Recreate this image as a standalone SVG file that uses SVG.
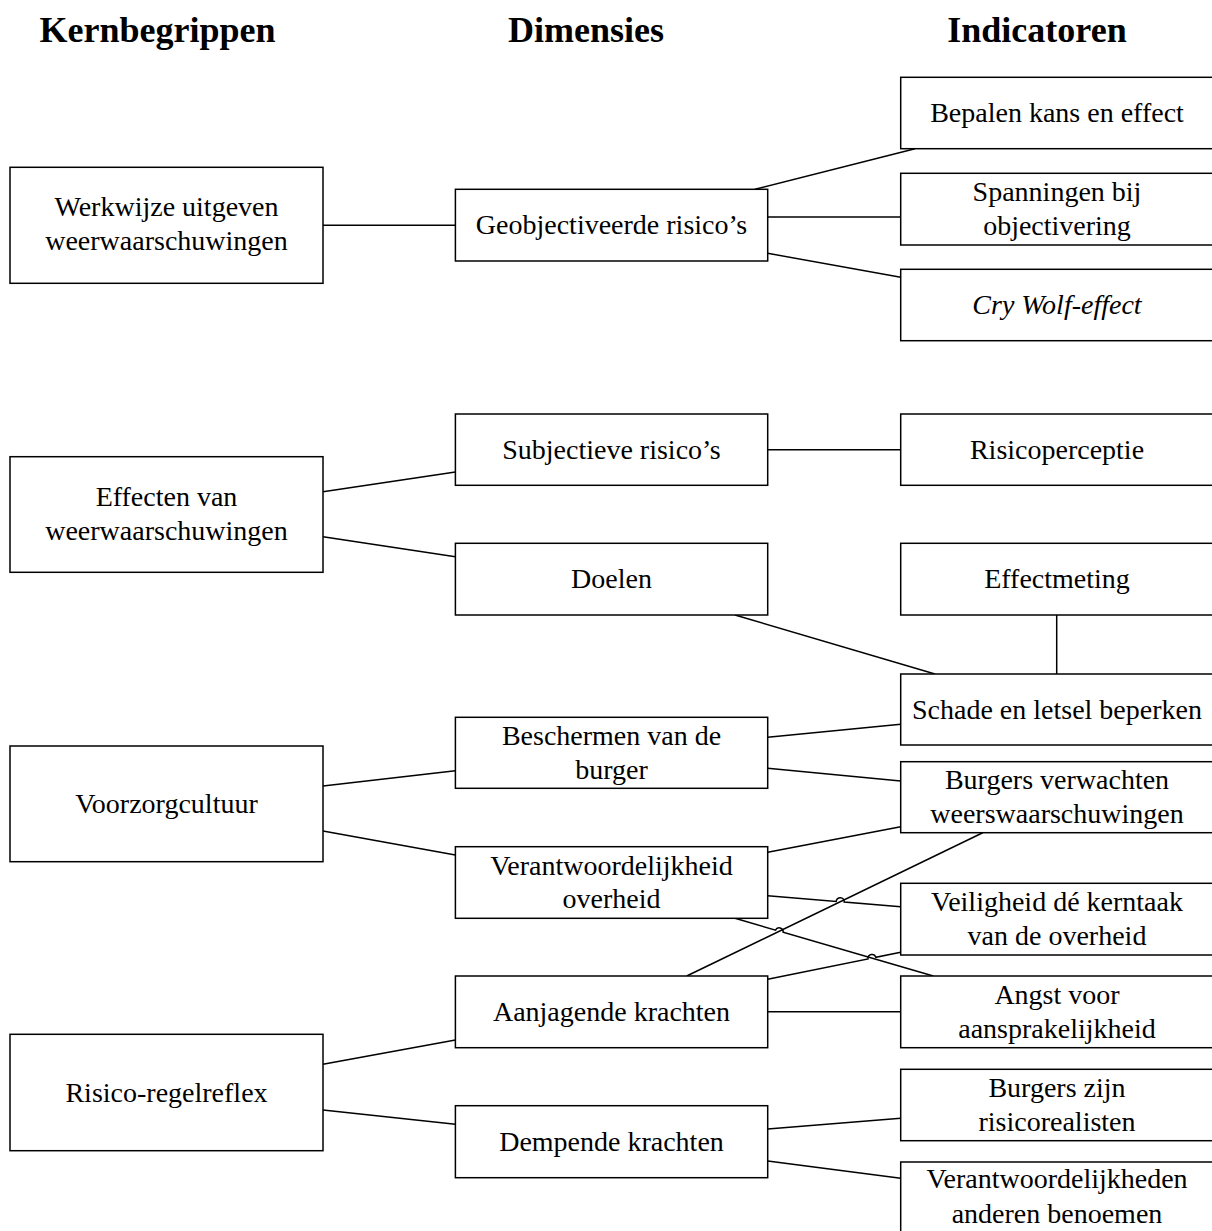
<svg xmlns="http://www.w3.org/2000/svg" width="1212" height="1231" viewBox="0 0 1212 1231">
<style>
.box{fill:#fff;stroke:#000;stroke-width:1.5}
.t{font-family:"Liberation Serif","Times New Roman",serif;font-size:28px;text-anchor:middle;fill:#000}
.h{font-family:"Liberation Serif","Times New Roman",serif;font-size:36px;font-weight:bold;text-anchor:middle;fill:#000}
.c line,.c path{stroke:#000;stroke-width:1.5;fill:none}
</style>
<rect x="0" y="0" width="1212" height="1231" fill="#fff"/>
<g id="headers">
<text class="h" x="157.5" y="42">Kernbegrippen</text>
<text class="h" x="586" y="42">Dimensies</text>
<text class="h" x="1037" y="42">Indicatoren</text>
</g>
<g id="connectors" class="c">
<line x1="323" y1="225.3" x2="455.4" y2="225.3"/>
<line x1="755" y1="189.3" x2="915" y2="148.7"/>
<line x1="767.7" y1="217" x2="900.7" y2="217"/>
<line x1="767.7" y1="253.3" x2="900.7" y2="277.3"/>
<line x1="323" y1="491.7" x2="455.4" y2="472"/>
<line x1="323" y1="536.7" x2="455.4" y2="556.7"/>
<line x1="767.7" y1="449.7" x2="900.7" y2="449.7"/>
<line x1="735" y1="615" x2="935" y2="674"/>
<line x1="1056.7" y1="615" x2="1056.7" y2="674"/>
<line x1="323" y1="786" x2="455.4" y2="770.7"/>
<line x1="323" y1="831" x2="455.4" y2="855"/>
<line x1="767.7" y1="737.3" x2="900.7" y2="724.3"/>
<line x1="767.7" y1="768.3" x2="900.7" y2="781"/>
<line x1="767.7" y1="852.3" x2="900.7" y2="826.7"/>
<path d="M767.7,895.7 L836.2,901.4 A4,4 0 0 1 844.2,902.0 L900.7,906.7"/>
<path d="M735,918.3 L775.5,930.1 A4,4 0 0 1 783.1,932.3 L933.3,976"/>
<line x1="686.7" y1="976" x2="982.7" y2="832.7"/>
<path d="M767.7,979.3 L868.0,958.9 A4,4 0 0 1 875.8,957.3 L900.7,952.3"/>
<line x1="767.7" y1="1011.7" x2="900.7" y2="1011.7"/>
<line x1="323" y1="1064.3" x2="455.4" y2="1040"/>
<line x1="323" y1="1110" x2="455.4" y2="1124.3"/>
<line x1="767.7" y1="1129" x2="900.7" y2="1118.3"/>
<line x1="767.7" y1="1161" x2="900.7" y2="1178.3"/>
</g>
<g id="k1"><rect class="box" x="10" y="167.3" width="313" height="116"/><text class="t" x="166.5" y="216">Werkwijze uitgeven</text><text class="t" x="166.5" y="250">weerwaarschuwingen</text></g>
<g id="k2"><rect class="box" x="10" y="456.7" width="313" height="115.6"/><text class="t" x="166.5" y="505.5">Effecten van</text><text class="t" x="166.5" y="539.5">weerwaarschuwingen</text></g>
<g id="k3"><rect class="box" x="10" y="746" width="313" height="115.7"/><text class="t" x="166.5" y="813">Voorzorgcultuur</text></g>
<g id="k4"><rect class="box" x="10" y="1034.3" width="313" height="116.4"/><text class="t" x="166.5" y="1101.8">Risico-regelreflex</text></g>
<g id="d1"><rect class="box" x="455.4" y="189.3" width="312.3" height="71.7"/><text class="t" x="611.5" y="233.5">Geobjectiveerde risico’s</text></g>
<g id="d2"><rect class="box" x="455.4" y="414" width="312.3" height="71.3"/><text class="t" x="611.5" y="458.5">Subjectieve risico’s</text></g>
<g id="d3"><rect class="box" x="455.4" y="543.3" width="312.3" height="71.7"/><text class="t" x="611.5" y="588">Doelen</text></g>
<g id="d4"><rect class="box" x="455.4" y="717.3" width="312.3" height="71"/><text class="t" x="611.5" y="745">Beschermen van de</text><text class="t" x="611.5" y="778.5">burger</text></g>
<g id="d5"><rect class="box" x="455.4" y="846.7" width="312.3" height="71.6"/><text class="t" x="611.5" y="874.5">Verantwoordelijkheid</text><text class="t" x="611.5" y="908">overheid</text></g>
<g id="d6"><rect class="box" x="455.4" y="976" width="312.3" height="71.7"/><text class="t" x="611.5" y="1021">Aanjagende krachten</text></g>
<g id="d7"><rect class="box" x="455.4" y="1105.7" width="312.3" height="72"/><text class="t" x="611.5" y="1150.5">Dempende krachten</text></g>
<g id="i1"><rect class="box" x="900.7" y="77.3" width="312.6" height="71.4"/><text class="t" x="1057" y="122">Bepalen kans en effect</text></g>
<g id="i2"><rect class="box" x="900.7" y="173.3" width="312.6" height="71.7"/><text class="t" x="1057" y="200.5">Spanningen bij</text><text class="t" x="1057" y="234.5">objectivering</text></g>
<g id="i3"><rect class="box" x="900.7" y="269.3" width="312.6" height="71.4"/><text class="t" x="1057" y="314" font-style="italic">Cry Wolf-effect</text></g>
<g id="i4"><rect class="box" x="900.7" y="414" width="312.6" height="71.3"/><text class="t" x="1057" y="458.5">Risicoperceptie</text></g>
<g id="i5"><rect class="box" x="900.7" y="543.3" width="312.6" height="71.7"/><text class="t" x="1057" y="588">Effectmeting</text></g>
<g id="i6"><rect class="box" x="900.7" y="674" width="312.6" height="71"/><text class="t" x="1057" y="718.5">Schade en letsel beperken</text></g>
<g id="i7"><rect class="box" x="900.7" y="761.7" width="312.6" height="71"/><text class="t" x="1057" y="789">Burgers verwachten</text><text class="t" x="1057" y="822.5">weerswaarschuwingen</text></g>
<g id="i8"><rect class="box" x="900.7" y="883.3" width="312.6" height="71.7"/><text class="t" x="1057" y="911">Veiligheid dé kerntaak</text><text class="t" x="1057" y="945">van de overheid</text></g>
<g id="i9"><rect class="box" x="900.7" y="976" width="312.6" height="71.7"/><text class="t" x="1057" y="1003.5">Angst voor</text><text class="t" x="1057" y="1037.5">aansprakelijkheid</text></g>
<g id="i10"><rect class="box" x="900.7" y="1069.3" width="312.6" height="71.4"/><text class="t" x="1057" y="1097">Burgers zijn</text><text class="t" x="1057" y="1131">risicorealisten</text></g>
<g id="i11"><rect class="box" x="900.7" y="1162" width="312.6" height="71"/><text class="t" x="1057" y="1188.3">Verantwoordelijkheden</text><text class="t" x="1057" y="1222.5">anderen benoemen</text></g>
</svg>
